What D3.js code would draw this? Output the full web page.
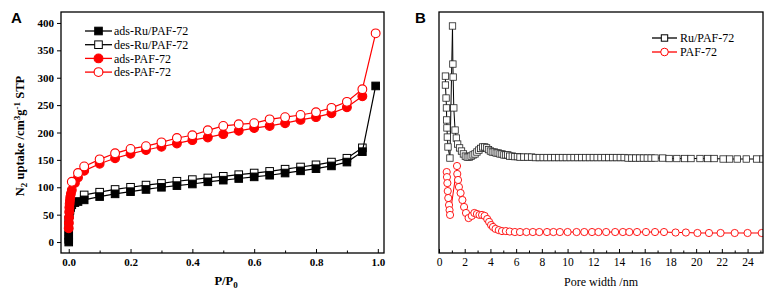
<!DOCTYPE html>
<html>
<head>
<meta charset="utf-8">
<script src="https://cdn.jsdelivr.net/npm/d3@7/dist/d3.min.js"></script>
<style>
  html, body { margin: 0; padding: 0; background: #fff; }
  svg { display: block; }
</style>
</head>
<body>
<svg id="chart" width="765" height="294"></svg>
<script>
// ---------- Panel A data: N2 isotherms ----------
const adsRuP = [0, 0, 0, 0, 0, 0, 0.002, 0.004, 0.006, 0.01, 0.02, 0.03, 0.05, 0.1, 0.15, 0.2, 0.25, 0.3, 0.35, 0.4, 0.45, 0.5, 0.55, 0.6, 0.65, 0.7, 0.75, 0.8, 0.85, 0.9, 0.95, 0.993];
const adsRuV = [0, 5, 12, 20, 30, 40, 50, 58, 63, 68, 72, 74, 77, 83, 88, 92, 96, 100, 103, 106, 110, 113, 116, 119, 122, 126, 130, 134, 139, 146, 165, 285];
const desRuP = [0.05, 0.1, 0.15, 0.2, 0.25, 0.3, 0.35, 0.4, 0.45, 0.5, 0.55, 0.6, 0.65, 0.7, 0.75, 0.8, 0.85, 0.9, 0.95];
const desRuV = [86, 91, 96, 100, 104, 107, 111, 114, 117, 120, 123, 126, 129, 133, 137, 141, 146, 153, 172];
const adsPafP = [0, 0.0005, 0.001, 0.0015, 0.002, 0.003, 0.004, 0.005, 0.007, 0.01, 0.02, 0.03, 0.05, 0.1, 0.15, 0.2, 0.25, 0.3, 0.35, 0.4, 0.45, 0.5, 0.55, 0.6, 0.65, 0.7, 0.75, 0.8, 0.85, 0.9, 0.95];
const adsPafV = [25, 35, 45, 55, 63, 70, 76, 82, 88, 95, 108, 118, 130, 143, 153, 161, 168, 174, 180, 186, 191, 197, 203, 208, 212, 217, 223, 228, 235, 246, 266];
const desPafP = [0.01, 0.03, 0.05, 0.1, 0.15, 0.2, 0.25, 0.3, 0.35, 0.4, 0.45, 0.5, 0.55, 0.6, 0.65, 0.7, 0.75, 0.8, 0.85, 0.9, 0.95, 0.993];
const desPafV = [110, 126, 138, 151, 162, 170, 175, 182, 190, 195, 204, 212, 215, 217, 224, 228, 232, 237, 245, 256, 279, 381];
const xTicksA = [0.0, 0.2, 0.4, 0.6, 0.8, 1.0];
const xMinorA = [0.1, 0.3, 0.5, 0.7, 0.9];
const yTicksA = [0, 50, 100, 150, 200, 250, 300, 350, 400];
const legendA = ["ads-Ru/PAF-72", "des-Ru/PAF-72", "ads-PAF-72", "des-PAF-72"];

// ---------- Panel B data: pore size distribution (relative units) ----------
const ruW = [0.50, 0.50, 0.55, 0.58, 0.60, 0.62, 0.65, 0.70, 0.85, 1.05, 1.08, 1.10, 1.15, 1.25, 1.35, 1.45, 1.60, 1.75, 1.90, 2.05, 2.20, 2.35, 2.50, 2.65, 2.80, 2.95, 3.10, 3.25, 3.40, 3.55, 3.70, 3.85, 4.00, 4.15, 4.30, 4.45, 4.60, 4.75, 4.90, 5.05, 5.20, 5.35, 5.50, 5.70, 5.90, 6.10, 6.30, 6.60, 6.90, 7.20, 7.50, 7.80, 8.10, 8.40, 8.70, 9.00, 9.30, 9.60, 9.90, 10.2, 10.5, 10.8, 11.1, 11.4, 11.7, 12.0, 12.3, 12.6, 12.9, 13.2, 13.5, 13.8, 14.1, 14.4, 14.7, 15.0, 15.3, 15.6, 15.9, 16.2, 16.5, 16.8, 17.4, 17.9, 18.5, 19.1, 19.6, 20.3, 20.9, 21.4, 22.1, 22.6, 23.2, 23.9, 24.7, 25.2];
const ruD = [73.4, 69.7, 64.3, 60.2, 55.2, 51.9, 48.1, 44.0, 39.4, 94.2, 78.4, 73.0, 60.2, 51.0, 47.7, 45.2, 43.6, 42.3, 41.1, 40.2, 39.8, 39.8, 40.2, 40.7, 41.1, 41.9, 42.7, 43.4, 44.0, 44.0, 43.6, 42.9, 42.3, 41.9, 41.9, 41.5, 41.5, 41.1, 41.1, 40.7, 40.7, 40.7, 40.2, 40.2, 40.0, 40.0, 39.8, 39.8, 39.8, 39.8, 39.6, 39.6, 39.6, 39.6, 39.6, 39.6, 39.6, 39.6, 39.6, 39.6, 39.6, 39.6, 39.6, 39.6, 39.6, 39.6, 39.6, 39.6, 39.6, 39.6, 39.6, 39.6, 39.6, 39.6, 39.4, 39.4, 39.4, 39.4, 39.4, 39.4, 39.4, 39.4, 39.4, 39.2, 39.2, 39.2, 39.2, 39.2, 39.2, 39.2, 39.0, 39.0, 39.0, 39.0, 39.0, 39.0];
const pafW = [0.60, 0.62, 0.65, 0.68, 0.72, 0.78, 0.82, 0.86, 1.40, 1.42, 1.48, 1.55, 1.68, 1.82, 1.95, 2.10, 2.30, 2.55, 2.75, 2.95, 3.15, 3.35, 3.55, 3.75, 3.90, 4.05, 4.20, 4.40, 4.65, 4.90, 5.20, 5.50, 5.90, 6.30, 6.80, 7.30, 7.80, 8.40, 8.90, 9.40, 10.0, 10.7, 11.3, 11.9, 12.4, 13.0, 13.7, 14.3, 14.8, 15.4, 16.1, 16.8, 17.5, 18.4, 19.2, 20.1, 21.0, 21.9, 23.0, 24.0, 25.1];
const pafD = [33.6, 31.5, 29.0, 25.7, 22.8, 19.9, 17.8, 15.8, 36.1, 32.8, 30.3, 27.4, 24.9, 22.0, 19.1, 16.6, 14.5, 15.4, 16.6, 16.2, 15.8, 15.8, 15.4, 14.1, 12.9, 11.6, 10.8, 10.0, 9.5, 9.1, 9.1, 8.9, 8.7, 8.7, 8.7, 8.7, 8.7, 8.7, 8.7, 8.7, 8.7, 8.7, 8.7, 8.7, 8.7, 8.7, 8.7, 8.7, 8.7, 8.7, 8.7, 8.7, 8.7, 8.5, 8.5, 8.3, 8.3, 8.3, 8.3, 8.3, 8.3];
const xTicksB = [0, 2, 4, 6, 8, 10, 12, 14, 16, 18, 20, 22, 24];
const xMinorB = [1, 3, 5, 7, 9, 11, 13, 15, 17, 19, 21, 23, 25];
const legendB = ["Ru/PAF-72", "PAF-72"];

const svg = d3.select("#chart");
const SERIF = '"Liberation Serif", "Times New Roman", serif';
const SANS = '"Liberation Sans", Arial, sans-serif';

function styleAxis(g, bold, size) {
  g.select(".domain").remove();
  g.selectAll("line").attr("stroke", "#000").attr("stroke-width", 1);
  g.selectAll("text").attr("font-family", SERIF).attr("font-size", size)
    .attr("font-weight", bold ? "bold" : "normal").attr("fill", "#000");
}

// ================= Panel A =================
const A = { l: 61, r: 384, t: 12, b: 253 };
const xA = d3.scaleLinear().domain([-0.025, 1.02]).range([A.l, A.r]);
const yA = d3.scaleLinear().domain([-20, 420]).range([A.b, A.t]);
const gA = svg.append("g");

const gxA = gA.append("g").attr("transform", `translate(0,${A.b})`)
  .call(d3.axisBottom(xA).tickValues(xTicksA).tickFormat(d3.format(".1f")).tickSizeInner(-4).tickSizeOuter(0).tickPadding(5));
styleAxis(gxA, true, 11);
const gxAm = gA.append("g").attr("transform", `translate(0,${A.b})`)
  .call(d3.axisBottom(xA).tickValues(xMinorA).tickFormat("").tickSizeInner(-2.5).tickSizeOuter(0));
styleAxis(gxAm, true, 11);
const gyA = gA.append("g").attr("transform", `translate(${A.l},0)`)
  .call(d3.axisLeft(yA).tickValues(yTicksA).tickSizeInner(4).tickSizeOuter(0).tickPadding(3));
styleAxis(gyA, true, 11);

gA.append("rect").attr("x", A.l).attr("y", A.t).attr("width", A.r - A.l).attr("height", A.b - A.t)
  .attr("fill", "none").attr("stroke", "#000").attr("stroke-width", 1.3);

const lineA = d3.line().x(d => xA(d[0])).y(d => yA(d[1]));
const seriesA = [
  { P: desRuP, V: desRuV, color: "#000", shape: "square", fill: "#fff" },
  { P: adsRuP, V: adsRuV, color: "#000", shape: "square", fill: "#000" },
  { P: adsPafP, V: adsPafV, color: "#ff0000", shape: "circle", fill: "#ff0000" },
  { P: desPafP, V: desPafV, color: "#ff0000", shape: "circle", fill: "#fff" }
];
seriesA.forEach(s => {
  const pts = s.P.map((p, i) => [p, s.V[i]]);
  gA.append("path").attr("d", lineA(pts)).attr("fill", "none").attr("stroke", s.color).attr("stroke-width", 1.2);
  if (s.shape === "square") {
    gA.selectAll(null).data(pts).enter().append("rect")
      .attr("x", d => xA(d[0]) - 3.8).attr("y", d => yA(d[1]) - 3.8).attr("width", 7.6).attr("height", 7.6)
      .attr("fill", s.fill).attr("stroke", s.color).attr("stroke-width", 1);
  } else {
    gA.selectAll(null).data(pts).enter().append("circle")
      .attr("cx", d => xA(d[0])).attr("cy", d => yA(d[1])).attr("r", 4.4)
      .attr("fill", s.fill).attr("stroke", s.color).attr("stroke-width", 1.1);
  }
});

// Legend A
const legA = [
  { color: "#000", shape: "square", fill: "#000" },
  { color: "#000", shape: "square", fill: "#fff" },
  { color: "#ff0000", shape: "circle", fill: "#ff0000" },
  { color: "#ff0000", shape: "circle", fill: "#fff" }
];
legA.forEach((s, i) => {
  const y = 31 + i * 13.7;
  gA.append("line").attr("x1", 85).attr("x2", 112).attr("y1", y).attr("y2", y).attr("stroke", s.color).attr("stroke-width", 1.3);
  if (s.shape === "square") {
    gA.append("rect").attr("x", 98.5 - 3.8).attr("y", y - 3.8).attr("width", 7.6).attr("height", 7.6)
      .attr("fill", s.fill).attr("stroke", s.color);
  } else {
    gA.append("circle").attr("cx", 98.5).attr("cy", y).attr("r", 4.4).attr("fill", s.fill).attr("stroke", s.color).attr("stroke-width", 1.1);
  }
  gA.append("text").attr("x", 114).attr("y", y + 4.2).attr("font-family", SERIF).attr("font-size", 12).text(legendA[i]);
});

// Axis titles A
gA.append("text").attr("x", 226).attr("y", 285).attr("text-anchor", "middle")
  .attr("font-family", SERIF).attr("font-size", 12.5).attr("font-weight", "bold")
  .call(t => { t.append("tspan").text("P/P"); t.append("tspan").attr("font-size", 9).attr("dy", 3).text("0"); });
const yTitle = gA.append("text").attr("transform", "translate(24,136) rotate(-90)").attr("text-anchor", "middle")
  .attr("font-family", SERIF).attr("font-size", 12.5).attr("font-weight", "bold");
yTitle.append("tspan").text("N");
yTitle.append("tspan").attr("font-size", 9).attr("dy", 3).text("2");
yTitle.append("tspan").attr("dy", -3).text(" uptake /cm");
yTitle.append("tspan").attr("font-size", 9).attr("dy", -4).text("3");
yTitle.append("tspan").attr("dy", 4).text("g");
yTitle.append("tspan").attr("font-size", 9).attr("dy", -4).text("-1");
yTitle.append("tspan").attr("dy", 4).text(" STP");

svg.append("text").attr("x", 11).attr("y", 23).attr("font-family", SANS).attr("font-weight", "bold").attr("font-size", 15).text("A");

// ================= Panel B =================
const B = { l: 439, r: 763, t: 12, b: 253 };
const xB = d3.scaleLinear().domain([0, 25.2]).range([B.l, B.r]);
const yB = d3.scaleLinear().domain([0, 100]).range([B.b, B.t]);
const gB = svg.append("g");

const gxB = gB.append("g").attr("transform", `translate(0,${B.b})`)
  .call(d3.axisBottom(xB).tickValues(xTicksB).tickSizeInner(-4).tickSizeOuter(0).tickPadding(5));
styleAxis(gxB, false, 11.5);
const gxBm = gB.append("g").attr("transform", `translate(0,${B.b})`)
  .call(d3.axisBottom(xB).tickValues(xMinorB).tickFormat("").tickSizeInner(-2.5).tickSizeOuter(0));
styleAxis(gxBm, false, 11);

const clipB = svg.append("defs").append("clipPath").attr("id", "clipB");
clipB.append("rect").attr("x", B.l).attr("y", B.t - 10).attr("width", B.r - B.l).attr("height", B.b - B.t + 10);

const lineB = d3.line().x(d => xB(d[0])).y(d => yB(d[1]));
const plotB = gB.append("g").attr("clip-path", "url(#clipB)");
const ruPts = ruW.map((w, i) => [w, ruD[i]]);
const pafPts = pafW.map((w, i) => [w, pafD[i]]);
plotB.append("path").attr("d", lineB(ruPts)).attr("fill", "none").attr("stroke", "#000").attr("stroke-width", 1);
plotB.selectAll(null).data(ruPts).enter().append("rect")
  .attr("x", d => xB(d[0]) - 3.2).attr("y", d => yB(d[1]) - 3.2).attr("width", 6.4).attr("height", 6.4)
  .attr("fill", "#fff").attr("stroke", "#222").attr("stroke-width", 0.8);
plotB.append("path").attr("d", lineB(pafPts)).attr("fill", "none").attr("stroke", "#ff0000").attr("stroke-width", 1);
plotB.selectAll(null).data(pafPts).enter().append("circle")
  .attr("cx", d => xB(d[0])).attr("cy", d => yB(d[1])).attr("r", 3.6)
  .attr("fill", "#fff").attr("stroke", "#ff0000").attr("stroke-width", 0.9);

gB.append("rect").attr("x", B.l).attr("y", B.t).attr("width", B.r - B.l).attr("height", B.b - B.t)
  .attr("fill", "none").attr("stroke", "#000").attr("stroke-width", 1.3);

// Legend B
[{ color: "#000", shape: "square" }, { color: "#ff0000", shape: "circle" }].forEach((s, i) => {
  const y = 38 + i * 14;
  gB.append("line").attr("x1", 652).attr("x2", 677).attr("y1", y).attr("y2", y).attr("stroke", s.color).attr("stroke-width", 1.3);
  if (s.shape === "square") {
    gB.append("rect").attr("x", 664.5 - 3.2).attr("y", y - 3.2).attr("width", 6.4).attr("height", 6.4).attr("fill", "#fff").attr("stroke", s.color);
  } else {
    gB.append("circle").attr("cx", 664.5).attr("cy", y).attr("r", 3.8).attr("fill", "#fff").attr("stroke", s.color);
  }
  gB.append("text").attr("x", 680).attr("y", y + 4.2).attr("font-family", SERIF).attr("font-size", 12).text(legendB[i]);
});

gB.append("text").attr("x", 601).attr("y", 286).attr("text-anchor", "middle")
  .attr("font-family", SERIF).attr("font-size", 12).text("Pore width /nm");

svg.append("text").attr("x", 415).attr("y", 23).attr("font-family", SANS).attr("font-weight", "bold").attr("font-size", 15).text("B");
</script>
</body>
</html>
